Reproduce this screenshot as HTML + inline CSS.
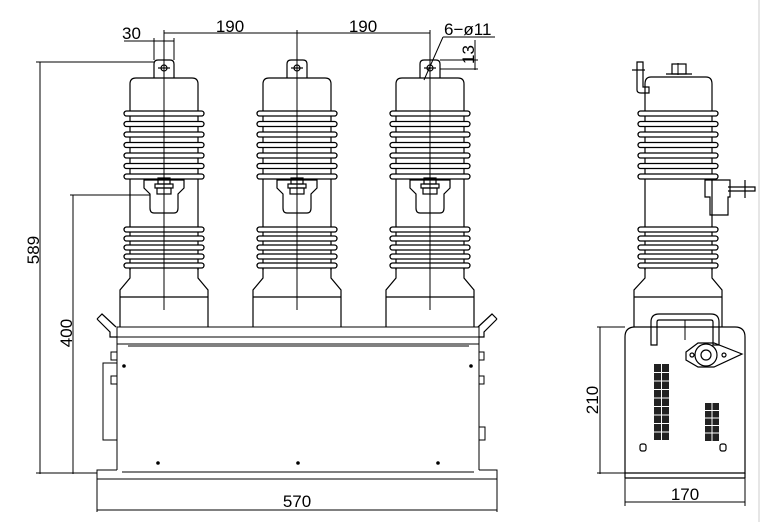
<!DOCTYPE html>
<html><head><meta charset="utf-8"><style>
html,body{margin:0;padding:0;background:#fff;}
svg{display:block;}
text{font-family:"Liberation Sans",sans-serif;fill:#000;}
</style></head><body>
<svg width="763" height="522" viewBox="0 0 763 522" xmlns="http://www.w3.org/2000/svg">
<defs>
<g id="shed">
<rect x="-40" y="0" width="80" height="5" rx="2.5" fill="#fff" stroke="#000" stroke-width="1.3"/>
</g>
<g id="pole" fill="none" stroke="#000" stroke-width="1.2">
<path d="M-10,78 V64 Q-10,60 -6,60 H6 Q10,60 10,64 V78"/>
<circle cx="0" cy="68" r="3"/>
<line x1="-6" y1="68" x2="6" y2="68"/>
<path d="M-34,110 V84 Q-34,78 -28,78 H28 Q34,78 34,84 V110"/>
<line x1="-34" y1="110" x2="-34" y2="270"/>
<line x1="34" y1="110" x2="34" y2="270"/>
<use href="#shed" y="111"/><use href="#shed" y="121.5"/><use href="#shed" y="132"/><use href="#shed" y="142.5"/><use href="#shed" y="153"/><use href="#shed" y="163.5"/><use href="#shed" y="174"/>
<use href="#shed" y="227"/><use href="#shed" y="236"/><use href="#shed" y="245"/><use href="#shed" y="254"/><use href="#shed" y="263"/>
<path d="M-34,268 V278 L-44,290 V327 M34,268 V278 L44,290 V327 M-44,297 H44"/>
<path d="M-20,180 H20 V188 L14,194 V208 Q14,213 10,213 H-10 Q-14,213 -14,208 V194 L-20,188 Z"/>
<rect x="-6" y="178" width="12" height="6"/>
<rect x="-9" y="184" width="18" height="4"/>
<rect x="-7" y="188" width="14" height="6"/>
<line x1="0" y1="60" x2="0" y2="310" stroke-width="1"/>
</g>
</defs>
<g stroke="#000" fill="none" stroke-width="1">
<!-- frame top -->
<path d="M97,319 L102,314 L116,327 M97,319 L110,332 V337 H117" stroke-width="1.2"/>
<path d="M497,319 L492,314 L478,327 M497,319 L484,332 V337 H479" stroke-width="1.2"/>
<rect x="117" y="327" width="362" height="10"/>
<line x1="117" y1="344" x2="479" y2="344"/>
<path d="M117,337 V470 M479,337 V470 M122,472 H474"/>
<line x1="128" y1="346" x2="469" y2="346"/>
<rect x="103" y="363" width="14" height="77"/>
<rect x="111" y="352" width="6" height="8"/><rect x="111" y="376" width="6" height="8"/>
<rect x="479" y="352" width="5" height="8"/><rect x="479" y="376" width="5" height="8"/>
<rect x="479" y="427" width="6" height="13"/>
<path d="M117,470 H97 V479 H497 V470 H479"/>
</g>
<g fill="#000"><circle cx="124" cy="366" r="1.8"/><circle cx="471" cy="366" r="1.8"/><circle cx="158" cy="463" r="1.8"/><circle cx="298" cy="463" r="1.8"/><circle cx="438" cy="463" r="1.8"/></g>
<use href="#pole" x="164"/>
<use href="#pole" x="297"/>
<use href="#pole" x="430"/>
<!-- dimensions main -->
<g stroke="#000" stroke-width="1" fill="none">
<line x1="40" y1="62" x2="40" y2="474"/>
<line x1="36" y1="62" x2="154" y2="62"/>
<line x1="36" y1="473" x2="97" y2="473"/>
<line x1="73" y1="195" x2="73" y2="474"/>
<line x1="70" y1="195" x2="150" y2="195"/>
<line x1="97" y1="479" x2="97" y2="512"/><line x1="497" y1="479" x2="497" y2="512"/>
<line x1="97" y1="510" x2="497" y2="510"/>
<line x1="154" y1="38" x2="154" y2="60"/><line x1="174" y1="38" x2="174" y2="60"/>
<line x1="124" y1="41" x2="174" y2="41"/>
<line x1="164" y1="33" x2="430" y2="33"/>
<line x1="164" y1="30" x2="164" y2="60"/><line x1="297" y1="30" x2="297" y2="60"/><line x1="430" y1="30" x2="430" y2="60"/>
<line x1="443" y1="37" x2="495" y2="37"/>
<line x1="443" y1="37" x2="424" y2="80"/>
<line x1="440" y1="60" x2="478" y2="60"/><line x1="440" y1="69" x2="478" y2="69"/>
<line x1="475" y1="40" x2="475" y2="70"/>
</g>
<g font-size="17">
<text x="122" y="39">30</text>
<text x="230" y="32" text-anchor="middle">190</text>
<text x="363" y="32" text-anchor="middle">190</text>
<text x="444" y="35">6−ø11</text>
<text x="0" y="0" transform="translate(474,64) rotate(-90)">13</text>
<text x="0" y="0" text-anchor="middle" transform="translate(39,250) rotate(-90)">589</text>
<text x="0" y="0" text-anchor="middle" transform="translate(72,333) rotate(-90)">400</text>
<text x="297" y="507" text-anchor="middle">570</text>
<text x="0" y="0" text-anchor="middle" transform="translate(598,400) rotate(-90)">210</text>
<text x="685" y="500" text-anchor="middle">170</text>
</g>
<!-- side view -->
<g stroke="#000" fill="none" stroke-width="1.2">
<rect x="672" y="64" width="14" height="10"/>
<line x1="666" y1="74" x2="692" y2="74"/>
<path d="M645,110 V84 Q645,77 651,77 H706 Q712,77 712,84 V110"/>
<path d="M637,62 V90 Q637,93 641,93 H649 V87 H643 V62 Z"/>
<line x1="632" y1="70" x2="645" y2="70"/>
<line x1="645" y1="110" x2="645" y2="270"/><line x1="712" y1="110" x2="712" y2="270"/>
<path d="M705,180 H730 V197 H728 V215 H710 V197 H705 Z M728,187 H755 V191 H728 M745,180 V198"/>
<path d="M645,268 V278 L634,290 V327 M712,268 V278 L722,290 V327 M634,297 H722"/>
<line x1="678" y1="63" x2="678" y2="75" stroke-width="1"/>
<path d="M625,473 V337 Q625,327 635,327 H735 Q745,327 745,337 V473 Z"/>
<line x1="625" y1="478" x2="745" y2="478"/>
<line x1="625" y1="473" x2="625" y2="478"/><line x1="745" y1="473" x2="745" y2="478"/>
<path d="M651,345 V322 Q651,314 659,314 H711 Q719,314 719,322 V345 H713 V322 Q713,320 711,320 H659 Q657,320 657,322 V345 Z"/>
<line x1="685" y1="320" x2="685" y2="340" stroke-width="1"/>
<path d="M686,352 L698,343 H714 L742,354 L714,367 H698 L686,360 Z"/>
<circle cx="706" cy="355" r="11"/><circle cx="706" cy="355" r="5"/>
<circle cx="692" cy="355" r="2"/><circle cx="724" cy="355" r="2"/>
<rect x="640" y="444" width="6" height="7" rx="2"/><rect x="720" y="444" width="6" height="7" rx="2"/>
</g>
<g transform="translate(678,0)">
<use href="#shed" y="111"/><use href="#shed" y="121.5"/><use href="#shed" y="132"/><use href="#shed" y="142.5"/><use href="#shed" y="153"/><use href="#shed" y="163.5"/><use href="#shed" y="174"/>
<use href="#shed" y="227"/><use href="#shed" y="236"/><use href="#shed" y="245"/><use href="#shed" y="254"/><use href="#shed" y="263"/>
</g>
<g fill="#222">
<rect x="654" y="364" width="15" height="76"/>
<rect x="705" y="403" width="14" height="38"/>
</g>
<g stroke="#fff" stroke-width="1">
<path d="M654,372.5 H669 M654,381 H669 M654,389.5 H669 M654,398 H669 M654,406.5 H669 M654,415 H669 M654,423.5 H669 M654,432 H669 M661.5,364 V440"/>
<path d="M705,410.5 H719 M705,418 H719 M705,425.5 H719 M705,433 H719 M712,403 V441"/>
</g>
<g stroke="#000" stroke-width="1" fill="none">
<line x1="600" y1="327" x2="600" y2="474"/>
<line x1="597" y1="327" x2="625" y2="327"/>
<line x1="597" y1="473" x2="625" y2="473"/>
<line x1="625" y1="478" x2="625" y2="506"/><line x1="745" y1="478" x2="745" y2="506"/>
<line x1="625" y1="502" x2="745" y2="502"/>
<line x1="759" y1="0" x2="759" y2="522" stroke="#ccc"/>
</g>
</svg>
</body></html>
